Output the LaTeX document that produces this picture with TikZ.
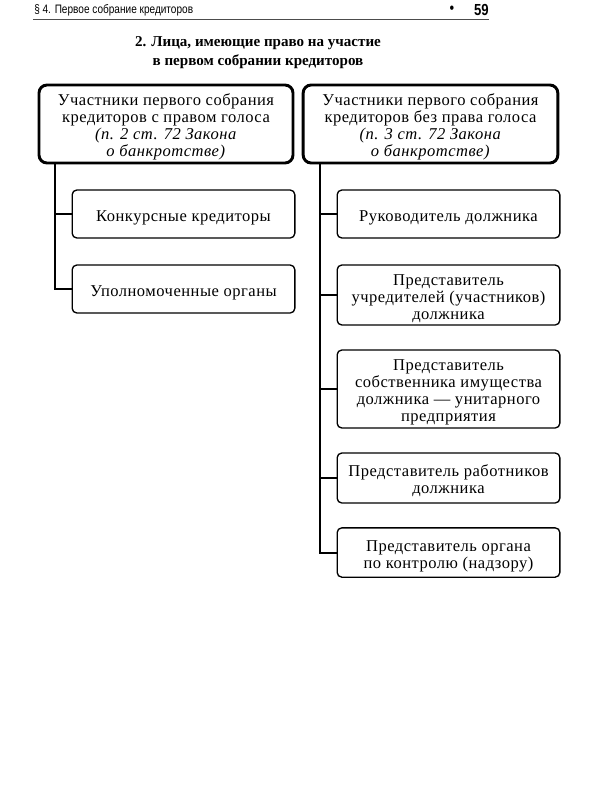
\documentclass[tikz,border=0pt]{standalone}
\usepackage{fontspec}
\setmainfont[LetterSpace=3]{Liberation Serif}
\newfontfamily\titlefont{Liberation Serif}
\newfontfamily\hdrfont[FakeStretch=0.82]{Liberation Sans}
\usetikzlibrary{calc}
\newcommand\mystrut{\rule{0pt}{13.5pt}}
\begin{document}
\begin{tikzpicture}[x=0.75pt,y=-0.75pt,
  topbox/.style={draw, line width=2.2pt, rounded corners=6pt, align=center, inner sep=0pt, font=\fontsize{12.4}{12.8}\selectfont},
  subbox/.style={draw, line width=1pt, rounded corners=3.5pt, align=center, inner sep=0pt, minimum width=167pt, font=\fontsize{12.4}{12.8}\selectfont},
  trunk/.style={line width=1.5pt}]
\useasboundingbox (0,0) rectangle (600,800);
% header
\node[anchor=west, inner sep=0pt, font=\hdrfont\fontsize{9.2}{10}\selectfont] (hdr) at (34,10) {§ 4. Первое собрание кредиторов};
\node[inner sep=0pt, font=\hdrfont\fontsize{12}{12}\selectfont] (bul) at (452,9.5) {•};
\node[anchor=east, inner sep=0pt, font=\hdrfont\bfseries\fontsize{12}{12}\selectfont] (pg) at (489,9.5) {59};
\coordinate (h1) at (33,19.5);
\coordinate (h2) at (489,19.5);
\draw[line width=0.6pt, black!70] (h1) -- (h2);
% title
\node[align=center, inner sep=0pt, font=\titlefont\bfseries\fontsize{11.3}{13.8}\selectfont] (title) at (258,52.5) {2. Лица, имеющие право на участие\\в первом собрании кредиторов};
% top boxes
\node[topbox, minimum width=190.5pt, minimum height=58.5pt] (L) at (166,124) {\mystrut Участники первого собрания\\кредиторов с правом голоса\\\textit{(п. 2 ст. 72 Закона}\\\textit{о банкротстве)}};
\node[topbox, minimum width=191pt, minimum height=58.5pt] (R) at (430.5,124) {\mystrut Участники первого собрания\\кредиторов без права голоса\\\textit{(п. 3 ст. 72 Закона}\\\textit{о банкротстве)}};
% left children
\node[subbox, minimum height=36pt] (l1) at (183.5,214) {\mystrut Конкурсные кредиторы};
\node[subbox, minimum height=36pt] (l2) at (183.5,289) {\mystrut Уполномоченные органы};
% right children
\node[subbox, minimum height=36pt] (r1b) at (448.5,214) {\mystrut Руководитель должника};
\node[subbox, minimum height=45pt] (r2b) at (448.5,295) {\mystrut Представитель\\учредителей (участников)\\должника};
\node[subbox, minimum height=58.5pt] (r3b) at (448.5,389) {\mystrut Представитель\\собственника имущества\\должника — унитарного\\предприятия};
\node[subbox, minimum height=37.5pt] (r4b) at (448.5,478) {\mystrut Представитель работников\\должника};
\node[subbox, minimum height=37pt] (r5b) at (448.5,552.5) {\mystrut Представитель органа\\по контролю (надзору)};
% connectors
\coordinate (lt) at ($(L.south west)+(17,0)$);
\coordinate (rt) at ($(R.south west)+(18,0)$);
\draw[trunk] (lt) |- (l2.west);
\draw[trunk] (l1.west) -- (l1.west -| lt);
\draw[trunk] (rt) |- (r5b.west);
\draw[trunk] (r1b.west) -- (r1b.west -| rt);
\draw[trunk] (r2b.west) -- (r2b.west -| rt);
\draw[trunk] (r3b.west) -- (r3b.west -| rt);
\draw[trunk] (r4b.west) -- (r4b.west -| rt);
\end{tikzpicture}
\end{document}
